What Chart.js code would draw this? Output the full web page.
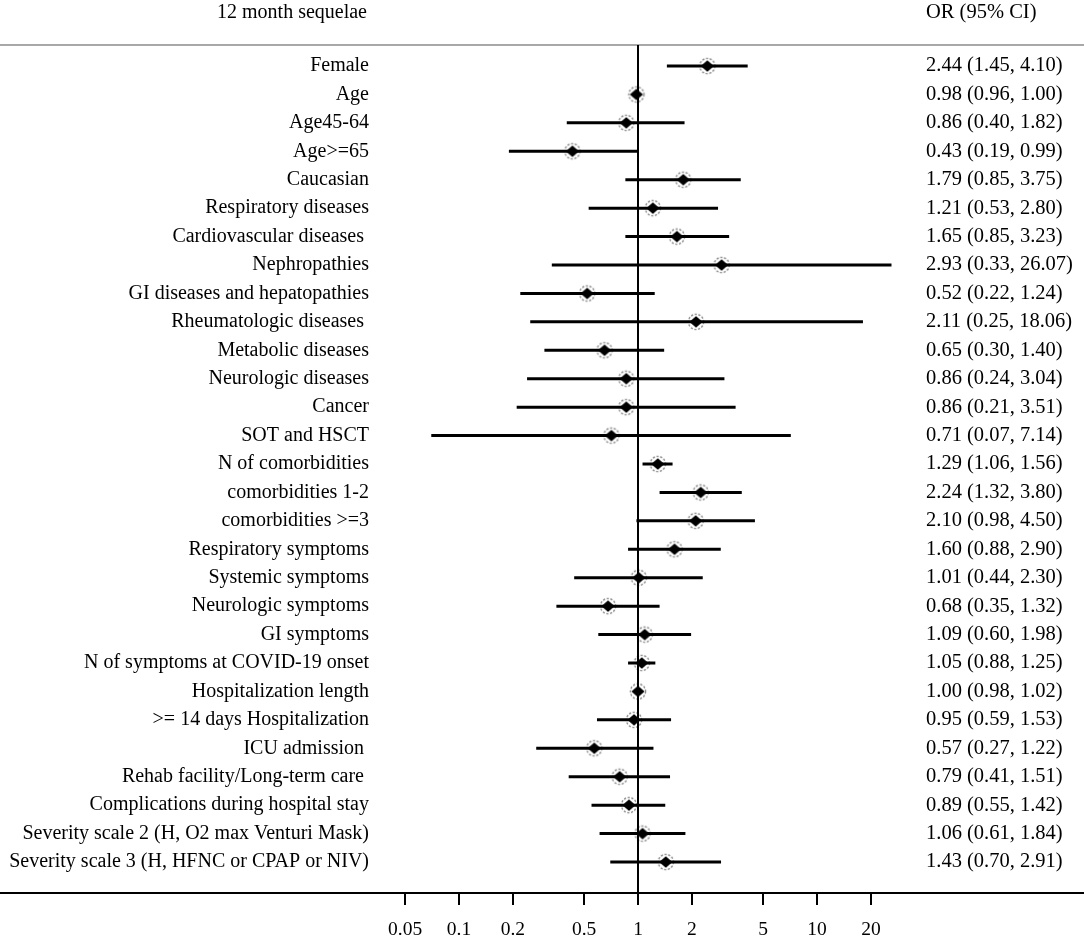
<!DOCTYPE html>
<html lang="en">
<head>
    <meta charset="UTF-8">
    <title>12 month sequelae - forest plot</title>
    <script src="https://cdn.jsdelivr.net/npm/chart.js"></script>
    <style>
        html, body {
            margin: 0;
            padding: 0;
            background: #fff;
        }
        .chart-container {
            width: 1084px;
            height: 937px;
            position: relative;
        }
    </style>
</head>
<body>
    <div class="chart-container">
        <canvas id="forestChart"></canvas>
    </div>

    <script>
        // Rows, top to bottom
        const labels = [
            "Female", "Age", "Age45-64", "Age>=65", "Caucasian",
            "Respiratory diseases", "Cardiovascular diseases ", "Nephropathies",
            "GI diseases and hepatopathies", "Rheumatologic diseases ",
            "Metabolic diseases", "Neurologic diseases", "Cancer", "SOT and HSCT",
            "N of comorbidities", "comorbidities 1-2", "comorbidities >=3",
            "Respiratory symptoms", "Systemic symptoms", "Neurologic symptoms",
            "GI symptoms", "N of symptoms at COVID-19 onset", "Hospitalization length",
            ">= 14 days Hospitalization", "ICU admission ", "Rehab facility/Long-term care ",
            "Complications during hospital stay", "Severity scale 2 (H, O2 max Venturi Mask)",
            "Severity scale 3 (H, HFNC or CPAP or NIV)"
        ];
        const orValues = [2.44, 0.98, 0.86, 0.43, 1.79, 1.21, 1.65, 2.93, 0.52, 2.11,
            0.65, 0.86, 0.86, 0.71, 1.29, 2.24, 2.10, 1.60, 1.01, 0.68,
            1.09, 1.05, 1.00, 0.95, 0.57, 0.79, 0.89, 1.06, 1.43];
        const ciLow = [1.45, 0.96, 0.40, 0.19, 0.85, 0.53, 0.85, 0.33, 0.22, 0.25,
            0.30, 0.24, 0.21, 0.07, 1.06, 1.32, 0.98, 0.88, 0.44, 0.35,
            0.60, 0.88, 0.98, 0.59, 0.27, 0.41, 0.55, 0.61, 0.70];
        const ciHigh = [4.10, 1.00, 1.82, 0.99, 3.75, 2.80, 3.23, 26.07, 1.24, 18.06,
            1.40, 3.04, 3.51, 7.14, 1.56, 3.80, 4.50, 2.90, 2.30, 1.32,
            1.98, 1.25, 1.02, 1.53, 1.22, 1.51, 1.42, 1.84, 2.91];
        const xTicks = [0.05, 0.1, 0.2, 0.5, 1, 2, 5, 10, 20];

        const FONT = "'Liberation Serif', 'Times New Roman', serif";

        // log axis spanning the whole width, 1 sits at x=638, 179px per decade
        const X_MIN = Math.pow(10, -638 / 179);
        const X_MAX = Math.pow(10, (1084 - 638) / 179);
        const Y_MIN = -0.739;
        const Y_MAX = 29.09;

        // diamond marker with dashed grey ring
        function makeMarker() {
            const c = document.createElement("canvas");
            c.width = 20;
            c.height = 20;
            const g = c.getContext("2d");
            g.setLineDash([2.2, 1.6]);
            g.strokeStyle = "#8c8c8c";
            g.lineWidth = 1.4;
            g.beginPath();
            g.arc(10, 10, 7.6, 0, Math.PI * 2);
            g.stroke();
            g.setLineDash([]);
            g.fillStyle = "#000";
            g.beginPath();
            g.moveTo(10, 4.2);
            g.lineTo(16.6, 10);
            g.lineTo(10, 15.8);
            g.lineTo(3.4, 10);
            g.closePath();
            g.fill();
            return c;
        }

        const ciDatasets = labels.map((lab, i) => ({
            type: "line",
            label: lab,
            data: [{ x: ciLow[i], y: i }, { x: ciHigh[i], y: i }],
            borderColor: "#000",
            borderWidth: 3,
            borderCapStyle: "butt",
            pointRadius: 0
        }));

        const textPlugin = {
            id: "forestText",
            beforeDatasetsDraw(chart) {
                const ctx = chart.ctx;
                ctx.save();
                ctx.strokeStyle = "#a8a8a8";
                ctx.lineWidth = 2;
                ctx.beginPath();
                ctx.moveTo(0, 45);
                ctx.lineTo(chart.width, 45);
                ctx.stroke();
                ctx.restore();
            },
            afterDraw(chart) {
                const ctx = chart.ctx;
                const y = chart.scales.y;
                ctx.save();
                ctx.fillStyle = "#000";
                ctx.textBaseline = "middle";

                ctx.font = "20px " + FONT;
                ctx.textAlign = "right";
                ctx.fillText("12 month sequelae", 367, 13);
                labels.forEach((lab, i) => {
                    ctx.fillText(lab, 369, y.getPixelForValue(i));
                });

                ctx.font = "20.5px " + FONT;
                ctx.textAlign = "left";
                ctx.fillText("OR (95% CI)", 926, 13);
                orValues.forEach((v, i) => {
                    const txt = v.toFixed(2) + " (" + ciLow[i].toFixed(2) + ", " + ciHigh[i].toFixed(2) + ")";
                    ctx.fillText(txt, 926, y.getPixelForValue(i));
                });
                ctx.restore();
            }
        };

        const chartCtx = document.getElementById("forestChart").getContext("2d");
        const forestChart = new Chart(chartCtx, {
            type: "scatter",
            data: {
                datasets: [
                    {
                        type: "line",
                        label: "null line",
                        data: [{ x: 1, y: Y_MIN }, { x: 1, y: Y_MAX }],
                        borderColor: "#000",
                        borderWidth: 2,
                        pointRadius: 0
                    },
                    ...ciDatasets,
                    {
                        type: "scatter",
                        label: "OR",
                        data: orValues.map((v, i) => ({ x: v, y: i })),
                        pointStyle: makeMarker(),
                        pointRadius: 10
                    }
                ]
            },
            options: {
                responsive: true,
                maintainAspectRatio: false,
                animation: false,
                layout: {
                    autoPadding: false,
                    padding: { top: 45, left: 0, right: 0, bottom: 0 }
                },
                plugins: {
                    legend: { display: false },
                    tooltip: { enabled: false }
                },
                scales: {
                    x: {
                        type: "logarithmic",
                        min: X_MIN,
                        max: X_MAX,
                        afterBuildTicks(scale) {
                            scale.ticks = xTicks.map(v => ({ value: v }));
                        },
                        afterFit(scale) {
                            scale.height = 44;
                        },
                        ticks: {
                            autoSkip: false,
                            maxRotation: 0,
                            padding: 13,
                            color: "#000",
                            font: { family: FONT, size: 19.5 },
                            callback: v => String(v)
                        },
                        grid: {
                            drawOnChartArea: false,
                            drawTicks: true,
                            tickLength: 12,
                            color: "#000",
                            lineWidth: 2
                        },
                        border: { display: true, color: "#000", width: 2 }
                    },
                    y: {
                        type: "linear",
                        reverse: true,
                        min: Y_MIN,
                        max: Y_MAX,
                        display: false
                    }
                }
            },
            plugins: [textPlugin]
        });
    </script>
</body>
</html>
